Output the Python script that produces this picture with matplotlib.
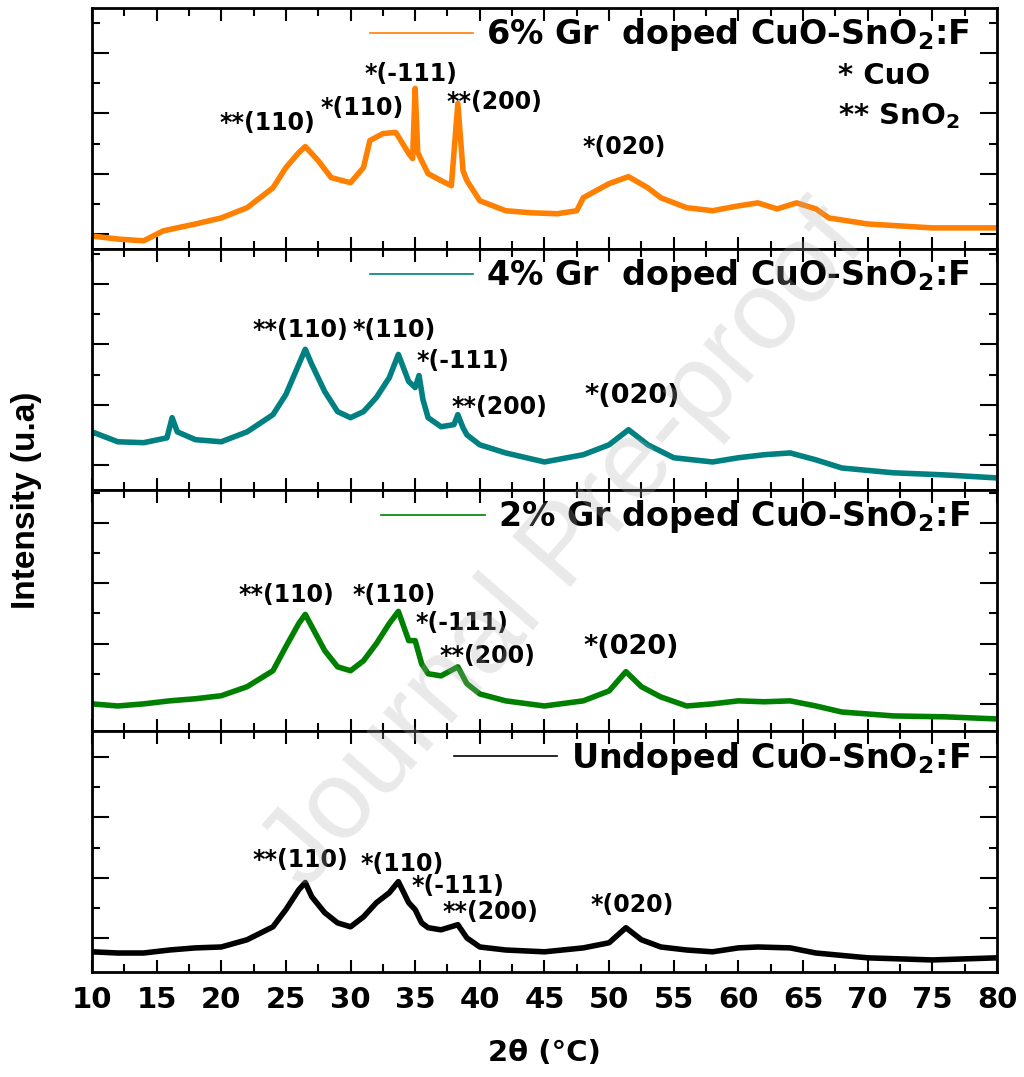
import numpy as np
import matplotlib.pyplot as plt
from matplotlib.lines import Line2D
from matplotlib.ticker import MultipleLocator, FixedLocator

plt.rcParams['font.family'] = ['DejaVu Sans']
plt.rcParams['font.weight'] = 'bold'
plt.rcParams['mathtext.fontset'] = 'dejavusans'

# XRD patterns (2theta, intensity a.u. per panel)
x_6 = [10, 12, 14, 15.5, 18, 20, 22, 24, 25, 26, 26.5, 27.5, 28.5, 30, 31, 31.5, 32.5, 33.5, 34.5, 34.8,
       35.0, 35.2, 35.5, 36, 37, 37.8, 38.3, 38.7, 39, 40, 42, 44, 46, 47.5, 48, 50, 51.5, 53, 54, 56,
       58, 60, 61.5, 63, 64.5, 66, 67, 70, 75, 80]
y_6 = [0.43, 0.33, 0.27, 0.6, 0.83, 1.03, 1.37, 2.03, 2.7, 3.2, 3.4, 2.93, 2.37, 2.2, 2.7, 3.6, 3.83, 3.87, 3.17, 3.0,
       5.33, 3.2, 2.93, 2.5, 2.27, 2.1, 4.83, 2.6, 2.27, 1.6, 1.27, 1.2, 1.17, 1.27, 1.7, 2.17, 2.4, 2.03, 1.7, 1.37,
       1.27, 1.43, 1.53, 1.33, 1.53, 1.33, 1.03, 0.83, 0.7, 0.7]

x_4 = [10, 12, 14, 15.8, 16.2, 16.6, 18, 20, 22, 24, 25, 26, 26.5, 27, 28, 29, 30, 31, 32, 33,
       33.7, 34.5, 35.0, 35.3, 35.6, 36, 37, 38.0, 38.3, 38.7, 39, 40, 42, 45, 48, 50, 51.5, 53, 55, 58,
       60, 62, 64, 66, 68, 72, 76, 80]
y_4 = [1.93, 1.6, 1.57, 1.73, 2.4, 1.93, 1.67, 1.6, 1.93, 2.5, 3.17, 4.17, 4.67, 4.17, 3.27, 2.6, 2.4, 2.6, 3.07, 3.73,
       4.5, 3.6, 3.4, 3.8, 3.0, 2.4, 2.1, 2.17, 2.5, 2.07, 1.83, 1.5, 1.23, 0.93, 1.17, 1.5, 2.0, 1.5, 1.07, 0.93,
       1.07, 1.17, 1.23, 1.0, 0.73, 0.57, 0.5, 0.4]

x_2 = [10, 12, 14, 16, 18, 20, 22, 24, 25, 26, 26.5, 27, 28, 29, 30, 31, 32, 33, 33.7, 34.5,
       35, 35.5, 36, 37, 38.3, 39, 40, 42, 45, 48, 50, 51.3, 52.5, 54, 56, 58, 60, 62, 64, 66,
       68, 72, 76, 80]
y_2 = [0.9, 0.83, 0.9, 1.0, 1.07, 1.17, 1.47, 2.0, 2.8, 3.57, 3.87, 3.47, 2.67, 2.13, 2.0, 2.33, 2.9, 3.57, 3.97, 3.0,
       3.0, 2.23, 1.9, 1.83, 2.13, 1.57, 1.23, 1.0, 0.83, 1.0, 1.33, 1.97, 1.47, 1.13, 0.83, 0.9, 1.0, 0.97, 1.0, 0.83,
       0.63, 0.5, 0.47, 0.4]

x_0 = [10, 12, 14, 16, 18, 20, 22, 24, 25, 26, 26.5, 27, 28, 29, 30, 31, 32, 33, 33.7, 34.5,
       35, 35.5, 36, 37, 38.3, 39, 40, 42, 45, 48, 50, 51.3, 52.5, 54, 56, 58, 60, 61.5, 64, 66,
       70, 75, 80]
y_0 = [0.67, 0.63, 0.63, 0.73, 0.8, 0.83, 1.07, 1.5, 2.07, 2.73, 2.97, 2.5, 1.97, 1.63, 1.5, 1.83, 2.3, 2.63, 3.0, 2.3,
       2.07, 1.63, 1.47, 1.4, 1.57, 1.13, 0.83, 0.73, 0.67, 0.8, 0.97, 1.47, 1.07, 0.83, 0.73, 0.67, 0.8, 0.83, 0.8, 0.63,
       0.47, 0.4, 0.47]

labels = ['6% Gr  doped CuO-SnO$_\\mathbf{2}$:F', '4% Gr  doped CuO-SnO$_\\mathbf{2}$:F',
          '2% Gr doped CuO-SnO$_\\mathbf{2}$:F', 'Undoped CuO-SnO$_\\mathbf{2}$:F']
colors = ['#ff8000', '#008080', '#008000', '#000000']
peaks = ['**(110)', '*(110)', '*(-111)', '**(200)', '*(020)']

# label positions (2theta, intensity) for each panel
peak_pos = [
    [(23.6, 4.17), (30.9, 4.67), (34.7, 5.8), (41.1, 4.87), (51.2, 3.37)],
    [(26.1, 5.3), (33.4, 5.3), (38.7, 4.27), (41.5, 2.77), (51.8, 3.13)],
    [(25.0, 4.53), (33.4, 4.53), (38.6, 3.57), (40.6, 2.5), (51.7, 2.8)],
    [(26.1, 3.73), (34.0, 3.57), (38.3, 2.87), (40.8, 2.0), (51.8, 2.23)],
]
tick_offset = [0.5, 0.83, 0.9, 1.13]

data = [(x_6, y_6), (x_4, y_4), (x_2, y_2), (x_0, y_0)]

fig, axes = plt.subplots(4, 1, figsize=(10.24, 10.77), dpi=100, sharex=True)
fig.subplots_adjust(left=0.0898, right=0.9736, top=0.9926, bottom=0.0975, hspace=0)

for i, ax in enumerate(axes):
    x, y = data[i]
    ax.plot(x, y, color=colors[i], lw=4)
    ax.set_xlim(10, 80)
    ax.set_ylim(0, 8.0)
    off = tick_offset[i]
    ax.yaxis.set_major_locator(FixedLocator([off + 2 * k for k in range(4)]))
    ax.yaxis.set_minor_locator(FixedLocator([off + 1 + 2 * k for k in range(4)]))
    ax.xaxis.set_major_locator(MultipleLocator(5))
    ax.xaxis.set_minor_locator(MultipleLocator(2.5))
    ax.tick_params(axis='y', which='major', direction='in', length=12, width=1.5, left=True, right=True, labelleft=False)
    ax.tick_params(axis='y', which='minor', direction='in', length=6, width=1.5, left=True, right=True)
    ax.tick_params(axis='x', which='major', direction='in', length=9, width=1.5, top=True, bottom=True, labelsize=21, pad=10)
    ax.tick_params(axis='x', which='minor', direction='in', length=6, width=1.5, top=True, bottom=True)
    for s in ax.spines.values():
        s.set_linewidth(2)

    for txt, (px, py) in zip(peaks, peak_pos[i]):
        fs = 19.5 if (txt == '*(020)' and i in (1, 2)) else 17
        ax.text(px, py, txt, ha='center', va='center', fontsize=fs, fontweight='bold')

    handle = Line2D([], [], color=colors[i], lw=1.2)
    ax.legend([handle], [labels[i]], loc='upper right', bbox_to_anchor=(0.985, 1.02), frameon=False,
              prop={'size': 24, 'weight': 'bold'}, handlelength=3.1, handletextpad=0.4, borderaxespad=0)

axes[0].text(67.7, 5.73, '* CuO', ha='left', va='center', fontsize=21, fontweight='bold')
axes[0].text(67.7, 4.4, '** SnO$_\\mathbf{2}$', ha='left', va='center', fontsize=21, fontweight='bold')

axes[-1].set_xlabel('2θ (°C)', fontsize=21, fontweight='bold', labelpad=18)
fig.text(0.026, 0.535, 'Intensity (u.a)', rotation=90, ha='center', va='center',
         fontsize=24, fontweight='bold', family='Liberation Sans')

# watermark
fig.text(0.552, 0.49, 'Journal Pre-proof', rotation=49, ha='center', va='center',
         fontsize=80, fontweight='normal', family='Liberation Sans', color='#b0b0b0', alpha=0.27)

plt.savefig('out.png', dpi=100)
